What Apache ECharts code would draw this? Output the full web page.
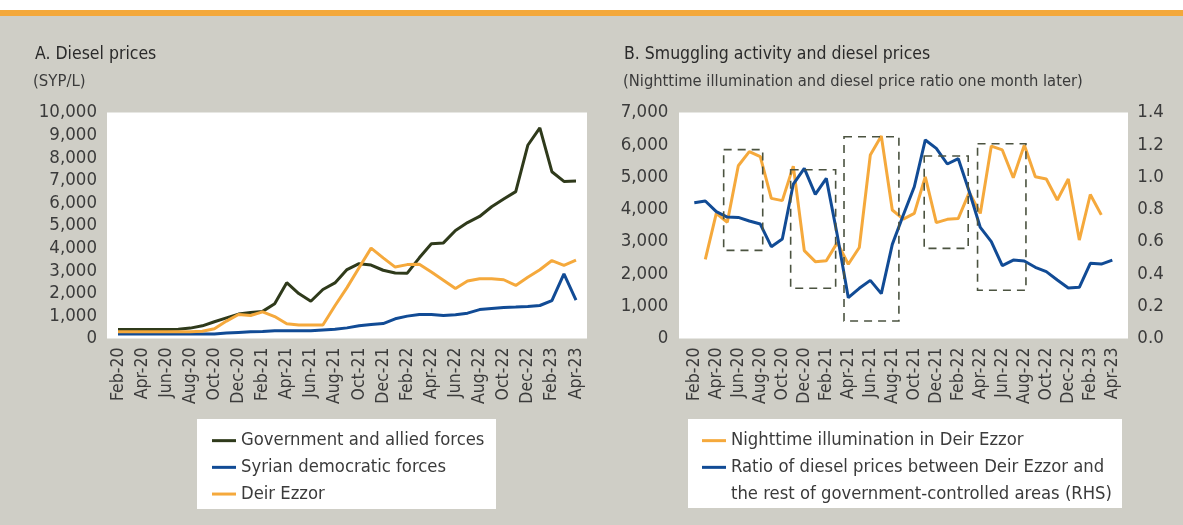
<!DOCTYPE html>
<html><head><meta charset="utf-8">
<script src="https://cdn.jsdelivr.net/npm/echarts@6/dist/echarts.min.js"></script>
<style>html,body{margin:0;padding:0;background:#fff}#c{width:1183px;height:525px}</style>
</head><body><div id="c"></div>
<script>
// ---------- data ----------
const months = ['Feb-20','Mar-20','Apr-20','May-20','Jun-20','Jul-20','Aug-20','Sep-20','Oct-20','Nov-20','Dec-20',
  'Jan-21','Feb-21','Mar-21','Apr-21','May-21','Jun-21','Jul-21','Aug-21','Sep-21','Oct-21','Nov-21','Dec-21',
  'Jan-22','Feb-22','Mar-22','Apr-22','May-22','Jun-22','Jul-22','Aug-22','Sep-22','Oct-22','Nov-22','Dec-22',
  'Jan-23','Feb-23','Mar-23','Apr-23'];

// Panel A: diesel prices (SYP/L)
const govPrices = [400,400,400,400,400,410,460,560,740,910,1080,1150,1200,1540,2470,1990,1650,2170,2460,3050,
  3310,3250,3020,2900,2890,3570,4190,4230,4780,5130,5400,5830,6170,6500,8550,9320,7380,6950,6970];
const sdfPrices = [200,200,200,200,200,200,200,200,200,240,270,300,310,340,340,340,340,380,410,470,
  560,620,660,870,990,1060,1060,1020,1050,1120,1280,1330,1370,1390,1420,1460,1680,2860,1700];
const deirPrices = [300,300,300,300,300,300,300,320,430,770,1060,1020,1180,970,650,600,600,600,1450,2250,
  3130,4000,3570,3160,3270,3290,2940,2580,2210,2540,2640,2640,2600,2350,2710,3040,3450,3240,3470];

// Panel B: nighttime illumination (LHS) and diesel price ratio (RHS)
const illumination = [null,2450,3875,3600,5350,5790,5630,4340,4270,5340,2720,2380,2410,2970,2300,2820,5680,6270,
  3980,3700,3875,5010,3590,3690,3720,4525,3875,5960,5840,4980,5990,5010,4940,4290,4940,3050,4460,3830,null];
const priceRatio = [0.841,0.852,0.786,0.752,0.750,0.728,0.709,0.569,0.616,0.957,1.054,0.893,0.992,0.64,0.253,
  0.311,0.360,0.278,0.583,0.765,0.940,1.230,1.178,1.081,1.114,0.909,0.688,0.600,0.451,0.486,0.480,0.441,0.414,
  0.362,0.313,0.317,0.466,0.461,0.486];

// Highlighted periods (month index from, month index to, value low, value high)
const boxes = [[2.67,6.22,2730,5850],[8.76,12.85,1555,5228],[13.61,18.6,542,6250],[20.9,24.9,2793,5652],[25.75,30.15,1493,6033]];

const leftTicks = {min:0, max:10000, interval:1000};
const rightTicksL = {min:0, max:7000, interval:1000};
const rightTicksR = {min:0, max:1.4, interval:0.2};

const names = {
  gov:'Government and allied forces', sdf:'Syrian democratic forces', deir:'Deir Ezzor',
  illum:'Nighttime illumination in Deir Ezzor',
  ratio:'Ratio of diesel prices between Deir Ezzor and\nthe rest of government-controlled areas (RHS)'
};

// ---------- style ----------
const FONT = "'DejaVu Sans Condensed','Liberation Sans Narrow',sans-serif";
const TXT = '#3b3b3b';
const C_GOV = '#2f3a1b', C_SDF = '#114b95', C_ORG = '#f5a93c';
const BG = '#cfcec6';

const fmtK = v => v.toLocaleString('en-US');

function xCat(grid){
  return {type:'category', gridIndex:grid, data:months, boundaryGap:false,
    axisLine:{show:false}, axisTick:{show:false}, splitLine:{show:false},
    axisLabel:{rotate:90, interval:1, margin:9, color:TXT, fontFamily:FONT, fontSize:17.5}};
}
function yVal(grid, t, pos, margin, fmt){
  return {type:'value', gridIndex:grid, position:pos, min:t.min, max:t.max, interval:t.interval,
    axisLine:{show:false}, axisTick:{show:false}, splitLine:{show:false},
    axisLabel:{margin:margin, color:TXT, fontFamily:FONT, fontSize:18.5, formatter:fmt}};
}
function lineS(name, data, color, xi, yi){
  return {type:'line', name:name, data:data, xAxisIndex:xi, yAxisIndex:yi, symbol:'none', showSymbol:false,
    lineStyle:{width:3, color:color}, itemStyle:{color:color}, connectNulls:false, animation:false};
}
const legendText = {fontFamily:FONT, fontSize:18.3, color:TXT, lineHeight:26.7};

const chart = echarts.init(document.getElementById('c'), null, {renderer:'canvas'});
chart.setOption({
  backgroundColor: BG,
  animation:false,
  textStyle:{fontFamily:FONT, color:TXT},
  graphic:[
    {type:'rect', shape:{x:0,y:0,width:1183,height:10}, style:{fill:'#ffffff'}, z:-10},
    {type:'rect', shape:{x:0,y:10,width:1183,height:6}, style:{fill:'#f3a83b'}, z:-10},
    {type:'rect', shape:{x:107,y:112.5,width:480,height:226}, style:{fill:'#ffffff'}, z:-10},
    {type:'rect', shape:{x:679,y:112.5,width:449,height:226}, style:{fill:'#ffffff'}, z:-10},
    {type:'rect', shape:{x:197,y:419,width:299,height:90}, style:{fill:'#ffffff'}, z:-10},
    {type:'rect', shape:{x:688,y:419,width:434,height:89}, style:{fill:'#ffffff'}, z:-10}
  ],
  title:[
    {text:'A. Diesel prices', left:35, top:41, padding:0, textStyle:{fontFamily:FONT, fontSize:17.5, fontWeight:'normal', color:'#2a2a2a', lineHeight:26}},
    {text:'(SYP/L)', left:33, top:69, padding:0, textStyle:{fontFamily:FONT, fontSize:16.6, fontWeight:'normal', color:TXT, lineHeight:26}},
    {text:'B. Smuggling activity and diesel prices', left:624, top:41, padding:0, textStyle:{fontFamily:FONT, fontSize:17.5, fontWeight:'normal', color:'#2a2a2a', lineHeight:26}},
    {text:'(Nighttime illumination and diesel price ratio one month later)', left:623, top:69, padding:0, textStyle:{fontFamily:FONT, fontSize:16.4, fontWeight:'normal', color:TXT, lineHeight:26}}
  ],
  legend:[
    {orient:'vertical', left:212, top:427.3, height:200, padding:0, itemGap:0, itemWidth:24, itemHeight:3, icon:'rect',
      data:[names.gov, names.sdf, names.deir], textStyle:legendText},
    {orient:'vertical', left:702, top:427.3, height:200, padding:0, itemGap:-26.7, itemWidth:24, itemHeight:3, icon:'rect',
      data:[names.illum, names.ratio], textStyle:legendText,
      // leading empty line keeps the icon aligned with the first line of the two-line entry
      formatter: n => (n === names.ratio ? '\n' + n : n)}
  ],
  grid:[
    {left:118, top:112.5, width:458, height:226},
    {left:694.3, top:112.5, width:418, height:226}
  ],
  xAxis:[
    xCat(0), xCat(1),
    {type:'value', gridIndex:1, min:0, max:months.length-1, show:false, splitLine:{show:false}}
  ],
  yAxis:[
    yVal(0, leftTicks, 'left', 21, fmtK),
    yVal(1, rightTicksL, 'left', 26, fmtK),
    yVal(1, rightTicksR, 'right', 25, v => v.toFixed(1))
  ],
  series:[
    lineS(names.gov, govPrices, C_GOV, 0, 0),
    lineS(names.sdf, sdfPrices, C_SDF, 0, 0),
    lineS(names.deir, deirPrices, C_ORG, 0, 0),
    lineS(names.illum, illumination, C_ORG, 1, 1),
    lineS(names.ratio, priceRatio, C_SDF, 1, 2),
    {type:'line', xAxisIndex:2, yAxisIndex:1, data:[], silent:true, animation:false,
      markArea:{silent:true, z:5,
        itemStyle:{color:'rgba(0,0,0,0)', borderColor:'#4b5340', borderWidth:1.6, borderType:[8,6]},
        label:{show:false},
        data: boxes.map(b => [{xAxis:b[0], yAxis:b[3]}, {xAxis:b[1], yAxis:b[2]}])}}
  ]
});
</script></body></html>
